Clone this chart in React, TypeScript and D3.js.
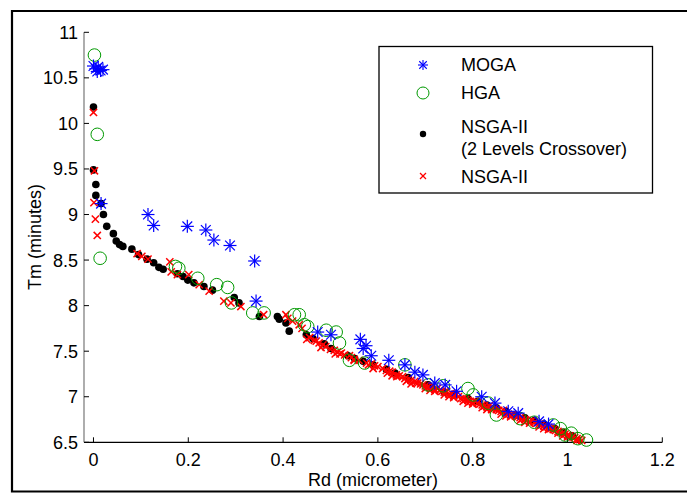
import React from "react";
import * as d3 from "d3";

const xTicks = [0, 0.2, 0.4, 0.6, 0.8, 1, 1.2];
const yTicks = [6.5, 7, 7.5, 8, 8.5, 9, 9.5, 10, 10.5, 11];

const mogaData: [number, number][] = [
  [0.0, 10.63], [0.005, 10.6], [0.01, 10.62], [0.015, 10.58], [0.02, 10.59], [0.008, 10.57],
  [0.016, 9.12],
  [0.115, 9.0], [0.127, 8.88], [0.198, 8.87], [0.237, 8.83], [0.254, 8.72], [0.288, 8.66],
  [0.34, 8.49], [0.343, 8.05],
  [0.473, 7.71], [0.501, 7.68], [0.563, 7.63], [0.569, 7.53], [0.575, 7.56], [0.586, 7.45],
  [0.623, 7.4], [0.657, 7.35], [0.678, 7.27], [0.695, 7.24], [0.72, 7.15], [0.742, 7.13],
  [0.766, 7.06], [0.819, 7.0], [0.847, 6.93], [0.875, 6.84], [0.896, 6.82], [0.94, 6.73], [0.96, 6.7],
];

const hgaData: [number, number][] = [
  [0.002, 10.75], [0.008, 9.88], [0.014, 8.52],
  [0.173, 8.43], [0.18, 8.41], [0.22, 8.3], [0.26, 8.23], [0.283, 8.2], [0.291, 8.03],
  [0.336, 7.92], [0.36, 7.92], [0.424, 7.9], [0.434, 7.9], [0.445, 7.79], [0.452, 7.77],
  [0.491, 7.73], [0.512, 7.71], [0.519, 7.59], [0.54, 7.4], [0.572, 7.37], [0.657, 7.35],
  [0.706, 7.13], [0.738, 7.12], [0.79, 7.09], [0.801, 7.02], [0.833, 6.93], [0.85, 6.8],
  [0.9, 6.76], [0.93, 6.72], [0.97, 6.69], [0.985, 6.65], [0.995, 6.58], [1.008, 6.6],
  [1.022, 6.54], [1.04, 6.525],
];

const nsga2LevelData: [number, number][] = [
  [0.0, 10.18], [0.0, 9.49], [0.005, 9.33], [0.005, 9.21], [0.016, 9.12], [0.021, 9.0],
  [0.028, 8.87], [0.042, 8.79], [0.048, 8.71], [0.055, 8.67], [0.062, 8.65], [0.081, 8.62],
  [0.095, 8.56], [0.113, 8.51], [0.127, 8.47], [0.138, 8.42], [0.147, 8.4], [0.177, 8.35],
  [0.189, 8.32], [0.199, 8.28], [0.212, 8.25], [0.233, 8.21], [0.251, 8.17], [0.297, 8.09],
  [0.307, 8.03], [0.35, 7.88], [0.388, 7.88], [0.392, 7.85], [0.406, 7.81], [0.413, 7.72],
  [0.449, 7.68], [0.463, 7.64], [0.487, 7.58], [0.501, 7.53], [0.537, 7.45], [0.551, 7.42],
  [0.569, 7.39], [0.59, 7.35], [0.618, 7.3], [0.636, 7.26], [0.664, 7.21], [0.706, 7.13],
  [0.713, 7.1], [0.74, 7.05], [0.76, 7.02], [0.79, 6.98], [0.81, 6.95], [0.83, 6.91],
  [0.85, 6.88], [0.87, 6.84], [0.89, 6.8], [0.91, 6.77], [0.93, 6.74], [0.95, 6.7],
  [0.973, 6.65], [0.99, 6.61], [1.01, 6.57],
];

const nsga2Data: [number, number][] = [
  [0.0, 10.12], [0.002, 9.48], [0.001, 9.13], [0.004, 8.95], [0.008, 8.77],
  [0.092, 8.57], [0.102, 8.54], [0.115, 8.51], [0.161, 8.48], [0.164, 8.37], [0.177, 8.34],
  [0.201, 8.34], [0.223, 8.23], [0.244, 8.16], [0.275, 8.05], [0.29, 8.03], [0.311, 7.99],
  [0.359, 7.9], [0.406, 7.9], [0.41, 7.86], [0.42, 7.83], [0.434, 7.79], [0.44, 7.75],
  [0.456, 7.65], [0.466, 7.62], [0.47, 7.61], [0.476, 7.59], [0.484, 7.57], [0.49, 7.55],
  [0.5, 7.52], [0.508, 7.51], [0.515, 7.49], [0.52, 7.47], [0.523, 7.48], [0.53, 7.46],
  [0.544, 7.43], [0.55, 7.41], [0.56, 7.4], [0.576, 7.37], [0.586, 7.36], [0.593, 7.34],
  [0.6, 7.33], [0.61, 7.31], [0.618, 7.29], [0.625, 7.28], [0.63, 7.27], [0.639, 7.24],
  [0.645, 7.23], [0.652, 7.22], [0.657, 7.2], [0.664, 7.19], [0.67, 7.18], [0.678, 7.17],
  [0.684, 7.15], [0.69, 7.14], [0.695, 7.13], [0.7, 7.12], [0.705, 7.11], [0.71, 7.1],
  [0.715, 7.12], [0.72, 7.08], [0.725, 7.09], [0.73, 7.07], [0.735, 7.06], [0.74, 7.05],
  [0.745, 7.06], [0.75, 7.03], [0.755, 7.04], [0.76, 7.01], [0.765, 7.02], [0.77, 7.0],
  [0.775, 6.98], [0.78, 6.98], [0.785, 6.97], [0.79, 6.96], [0.795, 6.95], [0.8, 6.94],
  [0.805, 6.95], [0.81, 6.93], [0.815, 6.92], [0.82, 6.91], [0.825, 6.9], [0.83, 6.89],
  [0.835, 6.9], [0.84, 6.88], [0.845, 6.87], [0.85, 6.86], [0.855, 6.85], [0.86, 6.84],
  [0.865, 6.85], [0.87, 6.82], [0.875, 6.81], [0.88, 6.8], [0.885, 6.8], [0.89, 6.79],
  [0.895, 6.78], [0.9, 6.77], [0.905, 6.76], [0.91, 6.75], [0.915, 6.74], [0.92, 6.73],
  [0.925, 6.74], [0.93, 6.72], [0.935, 6.71], [0.94, 6.7], [0.945, 6.69], [0.95, 6.68],
  [0.955, 6.67], [0.96, 6.66], [0.965, 6.65], [0.97, 6.64], [0.975, 6.63], [0.98, 6.62],
  [0.985, 6.61], [0.99, 6.6], [0.995, 6.59], [1.0, 6.58], [1.005, 6.57], [1.01, 6.56],
  [1.015, 6.55], [1.02, 6.54], [1.025, 6.53], [1.03, 6.52],
  [0.72, 7.06], [0.76, 6.99], [0.8, 6.92], [0.84, 6.86], [0.88, 6.78], [0.92, 6.71],
  [0.96, 6.64], [1.0, 6.56], [0.68, 7.15], [0.64, 7.22], [0.58, 7.35], [0.54, 7.45],
  [0.62, 7.26], [0.66, 7.17], [0.7, 7.09], [0.74, 7.02], [0.78, 6.95], [0.82, 6.88],
  [0.86, 6.81], [0.9, 6.74], [0.94, 6.67], [0.98, 6.6], [1.02, 6.52], [0.99, 6.57],
  [0.95, 6.65], [0.91, 6.72], [0.87, 6.79], [0.83, 6.86], [0.79, 6.93], [0.75, 7.0],
  [0.71, 7.07], [0.67, 7.14], [0.63, 7.23], [0.59, 7.31], [0.55, 7.4], [0.51, 7.47],
  [0.48, 7.54], [0.45, 7.63],
];

const seriesNames = ["MOGA", "HGA", "NSGA-II", "(2 Levels Crossover)", "NSGA-II"];

const W = 687;
const H = 494;
const FONT = "'Liberation Sans', Arial, Helvetica, sans-serif";

const x = d3.scaleLinear().domain([-0.02, 1.2]).range([84, 662.3]);
const y = d3.scaleLinear().domain([6.5, 11]).range([442.3, 32.3]);

const BLUE = "#0000ff";
const GREEN = "#009900";
const RED = "#ff0000";

function Star({ cx, cy, s = 6.5, w = 1.2 }: { cx: number; cy: number; s?: number; w?: number }) {
  const d = s * 0.75;
  return (
    <g stroke={BLUE} strokeWidth={w} fill="none">
      <line x1={cx - s} y1={cy} x2={cx + s} y2={cy} />
      <line x1={cx} y1={cy - s} x2={cx} y2={cy + s} />
      <line x1={cx - d} y1={cy - d} x2={cx + d} y2={cy + d} />
      <line x1={cx - d} y1={cy + d} x2={cx + d} y2={cy - d} />
    </g>
  );
}

function Cross({ cx, cy, s = 3.6, w = 1.5 }: { cx: number; cy: number; s?: number; w?: number }) {
  return (
    <g stroke={RED} strokeWidth={w}>
      <line x1={cx - s} y1={cy - s} x2={cx + s} y2={cy + s} />
      <line x1={cx - s} y1={cy + s} x2={cx + s} y2={cy - s} />
    </g>
  );
}

export default function App() {
  const fs = 18;
  return (
    <svg
      width={W}
      height={H}
      style={{ position: "absolute", left: 0, top: 0, background: "#fff" }}
      fontFamily={FONT}
    >
      <rect x={0} y={0} width={W} height={H} fill="#fff" />
      {/* outer frame */}
      <path d={`M${W + 5},11 H12 V491.5 H${W + 5}`} fill="none" stroke="#000" strokeWidth={2.2} />

      {/* axes */}
      <line x1={x(-0.02)} y1={y(6.5)} x2={x(1.2)} y2={y(6.5)} stroke="#000" strokeWidth={1.2} />
      <line x1={x(-0.02)} y1={y(6.5)} x2={x(-0.02)} y2={y(11)} stroke="#777" strokeWidth={1.2} />

      {xTicks.map((t) => (
        <g key={"xt" + t}>
          <line x1={x(t)} y1={y(6.5)} x2={x(t)} y2={y(6.5) - 5} stroke="#000" strokeWidth={1} />
          <text x={x(t)} y={466} textAnchor="middle" fontSize={fs} fill="#000">
            {String(t)}
          </text>
        </g>
      ))}
      {yTicks.map((t) => (
        <g key={"yt" + t}>
          <line x1={x(-0.02)} y1={y(t)} x2={x(-0.02) + 5} y2={y(t)} stroke="#000" strokeWidth={1} />
          <text x={78} y={y(t)} dy="0.36em" textAnchor="end" fontSize={fs} fill="#000">
            {String(t)}
          </text>
        </g>
      ))}

      <text x={373} y={486} textAnchor="middle" fontSize={fs} fill="#000">
        Rd (micrometer)
      </text>
      <text
        transform={`translate(41,237) rotate(-90)`}
        textAnchor="middle"
        fontSize={fs}
        fill="#000"
      >
        Tm (minutes)
      </text>

      {/* data */}
      <g>
        {nsga2LevelData.map((p, i) => (
          <circle key={"b" + i} cx={x(p[0])} cy={y(p[1])} r={3.8} fill="#000" />
        ))}
      </g>
      <g>
        {nsga2Data.map((p, i) => (
          <Cross key={"r" + i} cx={x(p[0])} cy={y(p[1])} />
        ))}
      </g>
      <g>
        {hgaData.map((p, i) => (
          <circle key={"g" + i} cx={x(p[0])} cy={y(p[1])} r={6.3} fill="none" stroke={GREEN} strokeWidth={1} />
        ))}
      </g>
      <g>
        {mogaData.map((p, i) => (
          <Star key={"m" + i} cx={x(p[0])} cy={y(p[1])} />
        ))}
      </g>

      {/* legend */}
      <rect x={379} y={46.5} width={273.5} height={146.5} fill="#fff" stroke="#000" strokeWidth={1.3} />
      <Star cx={423} cy={65} s={5} w={1.1} />
      <text x={461} y={65} dy="0.36em" fontSize={fs} fill="#000">{seriesNames[0]}</text>
      <circle cx={423} cy={93} r={6} fill="none" stroke={GREEN} strokeWidth={1} />
      <text x={461} y={93} dy="0.36em" fontSize={fs} fill="#000">{seriesNames[1]}</text>
      <circle cx={423} cy={134} r={3.2} fill="#000" />
      <text x={461} y={127} dy="0.36em" fontSize={fs} fill="#000">{seriesNames[2]}</text>
      <text x={461} y={149} dy="0.36em" fontSize={fs} fill="#000">{seriesNames[3]}</text>
      <Cross cx={423} cy={176} s={3} w={1.2} />
      <text x={461} y={177} dy="0.36em" fontSize={fs} fill="#000">{seriesNames[4]}</text>
    </svg>
  );
}
